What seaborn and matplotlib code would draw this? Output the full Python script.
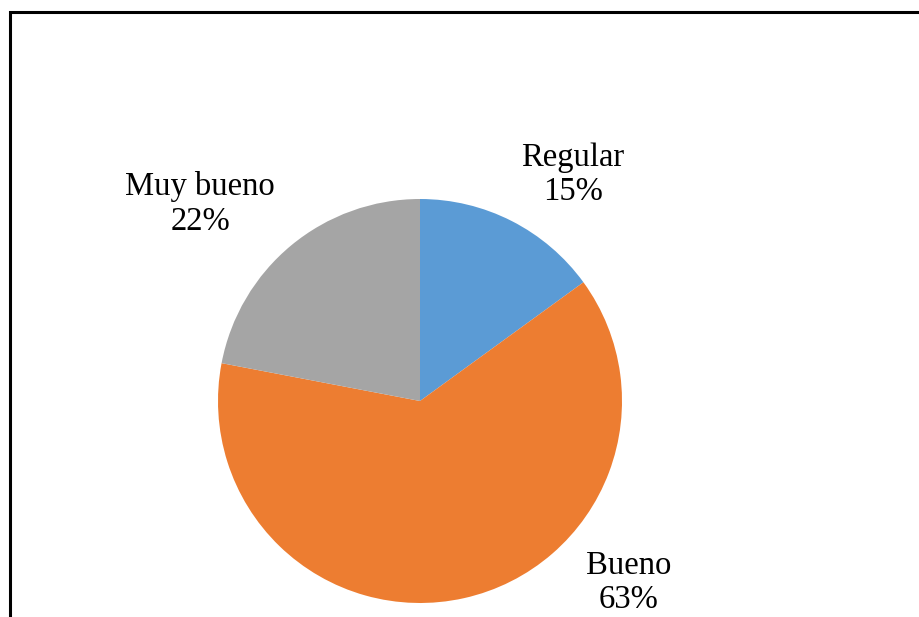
import matplotlib
matplotlib.use("Agg")
import matplotlib.pyplot as plt
import seaborn as sns
from matplotlib.patches import Rectangle

# Survey results
categories = ["Regular", "Bueno", "Muy bueno"]
percentages = [15, 63, 22]
colors = ["#5B9BD5", "#ED7D31", "#A5A5A5"]

# Label anchor points (figure pixels, measured from top-left)
label_xy = [(573, 175), (629, 583), (200, 204)]

W, H = 919, 617
sns.set_theme(style="white")
plt.rcParams["font.family"] = ["Liberation Serif", "DejaVu Serif"]

fig = plt.figure(figsize=(W / 100, H / 100), dpi=100)
ax = fig.add_axes([0, 0, 1, 1])

cx, cy, r = 420, H - 401, 202
ax.pie(percentages, colors=colors, startangle=90, counterclock=False,
       center=(cx, cy), radius=r, frame=True,
       wedgeprops=dict(linewidth=0))
ax.set_xlim(0, W)
ax.set_ylim(0, H)
ax.set_aspect("equal")
ax.axis("off")

for cat, pct, (lx, ly) in zip(categories, percentages, label_xy):
    ax.text(lx, H - ly, f"{cat}\n{pct}%", ha="center", va="center",
            fontsize=23.5, color="black", linespacing=1.15)

# Outer frame (extends past the right and bottom edges)
ax.add_patch(Rectangle((10, -20), W + 20, H - 12 + 20, fill=False,
                       edgecolor="black", linewidth=2.2, clip_on=False))

fig.savefig("out.png", dpi=100, facecolor="white")
